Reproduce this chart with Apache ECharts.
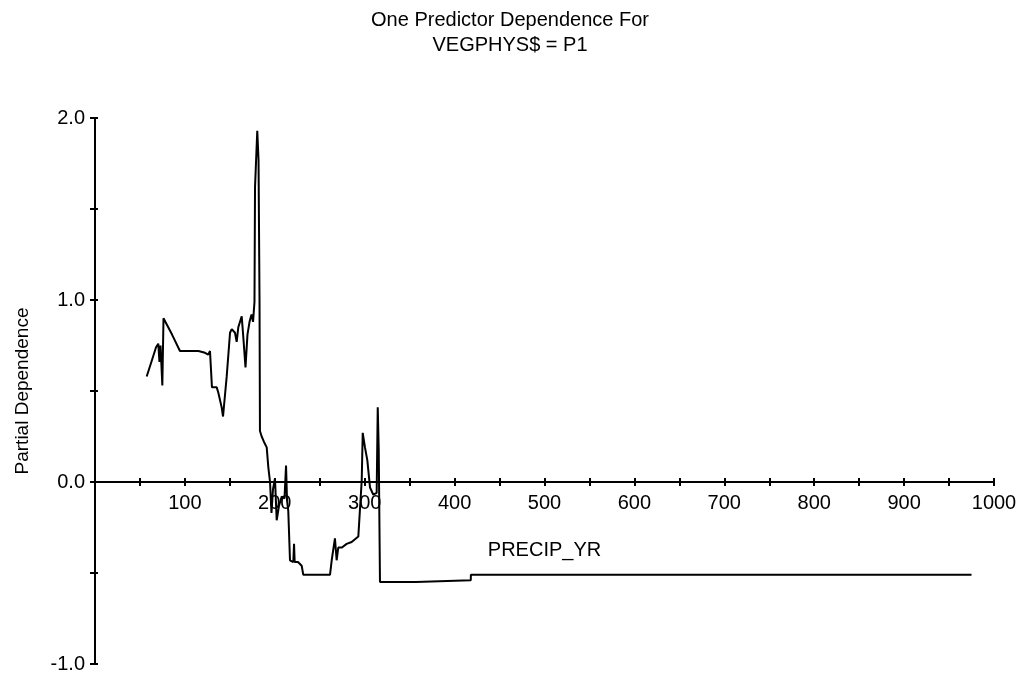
<!DOCTYPE html>
<html>
<head>
<meta charset="utf-8">
<title>One Predictor Dependence</title>
<script src="https://cdn.jsdelivr.net/npm/echarts@6/dist/echarts.min.js"></script>
<style>
  html, body { margin: 0; padding: 0; background: #fff; }
  #chart { width: 1020px; height: 675px; }
</style>
</head>
<body>
<div id="chart"></div>
<script>
// Partial dependence of VEGPHYS$ = P1 on annual precipitation
const precipValues = [
  57.5, 63.4, 67.9, 70.4, 71.7, 72.9, 74.9, 76.2, 85.7, 94.5,
  115, 122.4, 126, 127.9, 130.1, 135.4, 137.2, 140.9, 142.4, 146.5,
  150.2, 152.1, 155.7, 157.6, 159.4, 163.2, 165.2, 167.4, 169.6, 171.9,
  174.1, 175.8, 177.4, 178, 180.5, 181.9, 183, 183.5, 185.4, 188,
  191, 192.8, 194.7, 196.3, 198, 200.2, 202.1, 204.7, 207.7, 210.8,
  212.5, 213.6, 215, 216.9, 220.6, 221.4, 222.1, 225.8, 229.9, 231.7,
  261.4, 263.3, 266.9, 268.8, 270.6, 274.7, 279.9, 285.5, 292.9, 294.8,
  296.7, 297.8, 300.3, 302.9, 305.9, 309.6, 313.3, 314.5, 315.6, 317,
  357, 357.1, 418, 418.1, 975
];
const dependenceValues = [
  0.58, 0.67, 0.74, 0.76, 0.66, 0.75, 0.53, 0.90, 0.81, 0.72,
  0.72, 0.71, 0.70, 0.72, 0.52, 0.52, 0.49, 0.41, 0.36, 0.58,
  0.82, 0.84, 0.82, 0.77, 0.85, 0.91, 0.78, 0.63, 0.81, 0.88,
  0.92, 0.88, 0.99, 1.62, 1.93, 1.77, 1.00, 0.28, 0.25, 0.22,
  0.19, 0.08, 0.00, -0.17, -0.04, 0.02, -0.21, -0.13, -0.08, -0.09,
  0.09, -0.10, -0.16, -0.43, -0.44, -0.34, -0.44, -0.44, -0.46, -0.51,
  -0.51, -0.43, -0.31, -0.43, -0.36, -0.36, -0.34, -0.33, -0.30, -0.29,
  0.01, 0.27, 0.19, 0.12, -0.03, -0.07, -0.06, 0.41, 0.18, -0.55,
  -0.55, -0.54, -0.54, -0.51, -0.51
];
const xTickLabels = [100, 200, 300, 400, 500, 600, 700, 800, 900, 1000];
const yTickLabels = [-1, 0, 1, 2];

const FONT = "'Liberation Sans', Arial, sans-serif";
const BLACK = '#000';

// Plot area: 2.0 at the top edge, -1.0 at the bottom edge.
const plotBox = { left: 95, right: 26, top: 118, bottom: 11 };
// Same area cut off at the zero line, so its bottom axis sits on y = 0.
const zeroLineBox = { left: 95, right: 26, top: 118, bottom: 193 };

const seriesData = precipValues.map((x, i) => [x, dependenceValues[i]]);

const xRange = { type: 'value', min: 0, max: 1000, interval: 50, splitLine: { show: false } };
const yRange = { type: 'value', min: -1, max: 2, interval: 0.5, splitLine: { show: false } };
const hidden = {
  axisLine: { show: false }, axisTick: { show: false },
  axisLabel: { show: false }, splitLine: { show: false }
};
const gridOf = box => Object.assign({ containLabel: false, outerBoundsMode: 'none' }, box);

const chart = echarts.init(document.getElementById('chart'), null, { renderer: 'canvas' });
chart.setOption({
  animation: false,
  backgroundColor: '#fff',
  title: {
    text: 'One Predictor Dependence For\nVEGPHYS$ = P1',
    left: 'center',
    top: 3,
    textStyle: { fontFamily: FONT, fontSize: 20, fontWeight: 'normal', color: BLACK, lineHeight: 25 }
  },
  grid: [gridOf(plotBox), gridOf(plotBox), gridOf(zeroLineBox), gridOf(zeroLineBox)],
  xAxis: [
    Object.assign({}, xRange, hidden, { gridIndex: 0 }),
    Object.assign({}, xRange, hidden, { gridIndex: 1 }),
    // visible horizontal axis on the zero line
    Object.assign({}, xRange, {
      gridIndex: 2,
      position: 'bottom',
      axisLine: { show: true, onZero: false, lineStyle: { color: BLACK, width: 2 } },
      axisTick: { show: true, length: 4, lineStyle: { color: BLACK, width: 2 } },
      axisLabel: {
        color: BLACK, fontFamily: FONT, fontSize: 20, margin: 11,
        formatter: v => (xTickLabels.indexOf(v) >= 0 ? String(v) : '')
      },
      name: 'PRECIP_YR',
      nameLocation: 'middle',
      nameGap: 58,
      nameTextStyle: { color: BLACK, fontFamily: FONT, fontSize: 20 }
    }),
    // upper half of the crossing x ticks
    Object.assign({}, xRange, {
      gridIndex: 3,
      position: 'bottom',
      axisLine: { show: false, onZero: false },
      axisTick: { show: true, inside: true, length: 4, lineStyle: { color: BLACK, width: 2 } },
      axisLabel: { show: false }
    })
  ],
  yAxis: [
    Object.assign({}, yRange, {
      gridIndex: 0,
      position: 'left',
      axisLine: { show: true, onZero: false, lineStyle: { color: BLACK, width: 2 } },
      axisTick: { show: true, length: 5, lineStyle: { color: BLACK, width: 2 } },
      axisLabel: {
        color: BLACK, fontFamily: FONT, fontSize: 20, margin: 10,
        formatter: v => (yTickLabels.indexOf(v) >= 0 ? v.toFixed(1) : '')
      },
      name: 'Partial Dependence',
      nameLocation: 'middle',
      nameGap: 63,
      nameRotate: 90,
      nameTextStyle: { color: BLACK, fontFamily: FONT, fontSize: 19 }
    }),
    // right half of the crossing y ticks
    Object.assign({}, yRange, {
      gridIndex: 1,
      position: 'left',
      axisLine: { show: false, onZero: false },
      axisTick: { show: true, inside: true, length: 3, lineStyle: { color: BLACK, width: 2 } },
      axisLabel: { show: false }
    }),
    Object.assign({}, yRange, hidden, { gridIndex: 2 }),
    Object.assign({}, yRange, hidden, { gridIndex: 3 })
  ],
  series: [{
    type: 'line',
    xAxisIndex: 0,
    yAxisIndex: 0,
    data: seriesData,
    showSymbol: false,
    symbol: 'none',
    lineStyle: { color: BLACK, width: 2 },
    z: 3
  }]
});
</script>
</body>
</html>
